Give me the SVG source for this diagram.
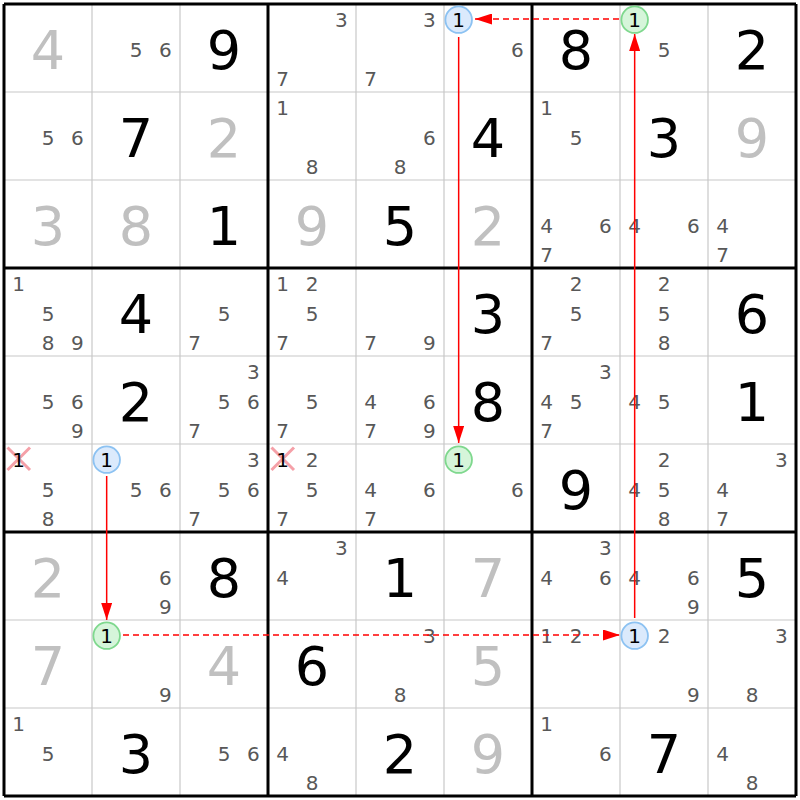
<svg xmlns="http://www.w3.org/2000/svg" width="800" height="800" viewBox="0 0 800 800">
<style>
.thin{stroke:#c8c8c8;stroke-width:1.2}
.thick{stroke:#000;stroke-width:3}
text{font-family:"DejaVu Sans","Liberation Sans",sans-serif;text-anchor:middle}
.g{font-size:54px;fill:#000}
.s{font-size:54px;fill:#c0c0c0}
.c{font-size:20px;fill:#585858}
.h{font-size:20px;fill:#000}
.blue{fill:#dbeafc;stroke:#8cc2f2;stroke-width:1.8}
.green{fill:#d6f5da;stroke:#7fd88e;stroke-width:1.8}
.x{stroke:#f5a0a8;stroke-width:3}
.link{stroke:#ff0000;stroke-width:1.5;fill:none}
.dash{stroke-dasharray:6 4}
</style>
<defs>
<marker id="ah" markerUnits="userSpaceOnUse" markerWidth="17" markerHeight="11" refX="17" refY="5.5" orient="auto">
<path d="M0,0 L17,5.5 L0,11 Z" fill="#ff0000"/>
</marker>
</defs>
<rect width="800" height="800" fill="#fff"/>
<g id="grid">
<path class="thin" d="M92,4V796M180,4V796M356,4V796M444,4V796M620,4V796M708,4V796M4,92H796M4,180H796M4,356H796M4,444H796M4,620H796M4,708H796"/>
<path class="thick" d="M4,4V796M268,4V796M532,4V796M796,4V796M4,4H796M4,268H796M4,532H796M4,796H796"/>
</g>

<!-- Row 0 -->
<g id="r0c0"><text class="s" x="48" y="69">4</text></g>
<g id="r0c1"><text class="c" x="136" y="56.7">5</text><text class="c" x="165.33" y="56.7">6</text></g>
<g id="r0c2"><text class="g" x="224" y="69">9</text></g>
<g id="r0c3"><text class="c" x="341.33" y="27.3">3</text><text class="c" x="282.67" y="86">7</text></g>
<g id="r0c4"><text class="c" x="429.33" y="27.3">3</text><text class="c" x="370.67" y="86">7</text></g>
<g id="r0c5"><circle class="blue" cx="458.67" cy="19.67" r="13.3"/><text class="h" x="458.67" y="27.3">1</text><text class="c" x="517.33" y="56.7">6</text></g>
<g id="r0c6"><text class="g" x="576" y="69">8</text></g>
<g id="r0c7"><circle class="green" cx="634.67" cy="19.67" r="13.3"/><text class="h" x="634.67" y="27.3">1</text><text class="c" x="664" y="56.7">5</text></g>
<g id="r0c8"><text class="g" x="752" y="69">2</text></g>

<!-- Row 1 -->
<g id="r1c0"><text class="c" x="48" y="144.7">5</text><text class="c" x="77.33" y="144.7">6</text></g>
<g id="r1c1"><text class="g" x="136" y="157">7</text></g>
<g id="r1c2"><text class="s" x="224" y="157">2</text></g>
<g id="r1c3"><text class="c" x="282.67" y="115.3">1</text><text class="c" x="312" y="174">8</text></g>
<g id="r1c4"><text class="c" x="429.33" y="144.7">6</text><text class="c" x="400" y="174">8</text></g>
<g id="r1c5"><text class="g" x="488" y="157">4</text></g>
<g id="r1c6"><text class="c" x="546.67" y="115.3">1</text><text class="c" x="576" y="144.7">5</text></g>
<g id="r1c7"><text class="g" x="664" y="157">3</text></g>
<g id="r1c8"><text class="s" x="752" y="157">9</text></g>

<!-- Row 2 -->
<g id="r2c0"><text class="s" x="48" y="245">3</text></g>
<g id="r2c1"><text class="s" x="136" y="245">8</text></g>
<g id="r2c2"><text class="g" x="224" y="245">1</text></g>
<g id="r2c3"><text class="s" x="312" y="245">9</text></g>
<g id="r2c4"><text class="g" x="400" y="245">5</text></g>
<g id="r2c5"><text class="s" x="488" y="245">2</text></g>
<g id="r2c6"><text class="c" x="546.67" y="232.7">4</text><text class="c" x="605.33" y="232.7">6</text><text class="c" x="546.67" y="262">7</text></g>
<g id="r2c7"><text class="c" x="634.67" y="232.7">4</text><text class="c" x="693.33" y="232.7">6</text></g>
<g id="r2c8"><text class="c" x="722.67" y="232.7">4</text><text class="c" x="722.67" y="262">7</text></g>

<!-- Row 3 -->
<g id="r3c0"><text class="c" x="18.67" y="291.3">1</text><text class="c" x="48" y="320.7">5</text><text class="c" x="48" y="350">8</text><text class="c" x="77.33" y="350">9</text></g>
<g id="r3c1"><text class="g" x="136" y="333">4</text></g>
<g id="r3c2"><text class="c" x="224" y="320.7">5</text><text class="c" x="194.67" y="350">7</text></g>
<g id="r3c3"><text class="c" x="282.67" y="291.3">1</text><text class="c" x="312" y="291.3">2</text><text class="c" x="312" y="320.7">5</text><text class="c" x="282.67" y="350">7</text></g>
<g id="r3c4"><text class="c" x="370.67" y="350">7</text><text class="c" x="429.33" y="350">9</text></g>
<g id="r3c5"><text class="g" x="488" y="333">3</text></g>
<g id="r3c6"><text class="c" x="576" y="291.3">2</text><text class="c" x="576" y="320.7">5</text><text class="c" x="546.67" y="350">7</text></g>
<g id="r3c7"><text class="c" x="664" y="291.3">2</text><text class="c" x="664" y="320.7">5</text><text class="c" x="664" y="350">8</text></g>
<g id="r3c8"><text class="g" x="752" y="333">6</text></g>

<!-- Row 4 -->
<g id="r4c0"><text class="c" x="48" y="408.7">5</text><text class="c" x="77.33" y="408.7">6</text><text class="c" x="77.33" y="438">9</text></g>
<g id="r4c1"><text class="g" x="136" y="421">2</text></g>
<g id="r4c2"><text class="c" x="253.33" y="379.3">3</text><text class="c" x="224" y="408.7">5</text><text class="c" x="253.33" y="408.7">6</text><text class="c" x="194.67" y="438">7</text></g>
<g id="r4c3"><text class="c" x="312" y="408.7">5</text><text class="c" x="282.67" y="438">7</text></g>
<g id="r4c4"><text class="c" x="370.67" y="408.7">4</text><text class="c" x="429.33" y="408.7">6</text><text class="c" x="370.67" y="438">7</text><text class="c" x="429.33" y="438">9</text></g>
<g id="r4c5"><text class="g" x="488" y="421">8</text></g>
<g id="r4c6"><text class="c" x="605.33" y="379.3">3</text><text class="c" x="546.67" y="408.7">4</text><text class="c" x="576" y="408.7">5</text><text class="c" x="546.67" y="438">7</text></g>
<g id="r4c7"><text class="c" x="634.67" y="408.7">4</text><text class="c" x="664" y="408.7">5</text></g>
<g id="r4c8"><text class="g" x="752" y="421">1</text></g>

<!-- Row 5 -->
<g id="r5c0"><path class="x" d="M7.5,447.5L30,470M30,447.5L7.5,470"/><text class="h" x="18.67" y="467.3">1</text><text class="c" x="48" y="496.7">5</text><text class="c" x="48" y="526">8</text></g>
<g id="r5c1"><circle class="blue" cx="106.67" cy="459.67" r="13.3"/><text class="h" x="106.67" y="467.3">1</text><text class="c" x="136" y="496.7">5</text><text class="c" x="165.33" y="496.7">6</text></g>
<g id="r5c2"><text class="c" x="253.33" y="467.3">3</text><text class="c" x="224" y="496.7">5</text><text class="c" x="253.33" y="496.7">6</text><text class="c" x="194.67" y="526">7</text></g>
<g id="r5c3"><path class="x" d="M271.5,447.5L294,470M294,447.5L271.5,470"/><text class="h" x="282.67" y="467.3">1</text><text class="c" x="312" y="467.3">2</text><text class="c" x="312" y="496.7">5</text><text class="c" x="282.67" y="526">7</text></g>
<g id="r5c4"><text class="c" x="370.67" y="496.7">4</text><text class="c" x="429.33" y="496.7">6</text><text class="c" x="370.67" y="526">7</text></g>
<g id="r5c5"><circle class="green" cx="458.67" cy="459.67" r="13.3"/><text class="h" x="458.67" y="467.3">1</text><text class="c" x="517.33" y="496.7">6</text></g>
<g id="r5c6"><text class="g" x="576" y="509">9</text></g>
<g id="r5c7"><text class="c" x="664" y="467.3">2</text><text class="c" x="634.67" y="496.7">4</text><text class="c" x="664" y="496.7">5</text><text class="c" x="664" y="526">8</text></g>
<g id="r5c8"><text class="c" x="781.33" y="467.3">3</text><text class="c" x="722.67" y="496.7">4</text><text class="c" x="722.67" y="526">7</text></g>

<!-- Row 6 -->
<g id="r6c0"><text class="s" x="48" y="597">2</text></g>
<g id="r6c1"><text class="c" x="165.33" y="584.7">6</text><text class="c" x="165.33" y="614">9</text></g>
<g id="r6c2"><text class="g" x="224" y="597">8</text></g>
<g id="r6c3"><text class="c" x="341.33" y="555.3">3</text><text class="c" x="282.67" y="584.7">4</text></g>
<g id="r6c4"><text class="g" x="400" y="597">1</text></g>
<g id="r6c5"><text class="s" x="488" y="597">7</text></g>
<g id="r6c6"><text class="c" x="605.33" y="555.3">3</text><text class="c" x="546.67" y="584.7">4</text><text class="c" x="605.33" y="584.7">6</text></g>
<g id="r6c7"><text class="c" x="634.67" y="584.7">4</text><text class="c" x="693.33" y="584.7">6</text><text class="c" x="693.33" y="614">9</text></g>
<g id="r6c8"><text class="g" x="752" y="597">5</text></g>

<!-- Row 7 -->
<g id="r7c0"><text class="s" x="48" y="685">7</text></g>
<g id="r7c1"><circle class="green" cx="106.67" cy="635.67" r="13.3"/><text class="h" x="106.67" y="643.3">1</text><text class="c" x="165.33" y="702">9</text></g>
<g id="r7c2"><text class="s" x="224" y="685">4</text></g>
<g id="r7c3"><text class="g" x="312" y="685">6</text></g>
<g id="r7c4"><text class="c" x="429.33" y="643.3">3</text><text class="c" x="400" y="702">8</text></g>
<g id="r7c5"><text class="s" x="488" y="685">5</text></g>
<g id="r7c6"><text class="c" x="546.67" y="643.3">1</text><text class="c" x="576" y="643.3">2</text></g>
<g id="r7c7"><circle class="blue" cx="634.67" cy="635.67" r="13.3"/><text class="h" x="634.67" y="643.3">1</text><text class="c" x="664" y="643.3">2</text><text class="c" x="693.33" y="702">9</text></g>
<g id="r7c8"><text class="c" x="781.33" y="643.3">3</text><text class="c" x="752" y="702">8</text></g>

<!-- Row 8 -->
<g id="r8c0"><text class="c" x="18.67" y="731.3">1</text><text class="c" x="48" y="760.7">5</text></g>
<g id="r8c1"><text class="g" x="136" y="773">3</text></g>
<g id="r8c2"><text class="c" x="224" y="760.7">5</text><text class="c" x="253.33" y="760.7">6</text></g>
<g id="r8c3"><text class="c" x="282.67" y="760.7">4</text><text class="c" x="312" y="790">8</text></g>
<g id="r8c4"><text class="g" x="400" y="773">2</text></g>
<g id="r8c5"><text class="s" x="488" y="773">9</text></g>
<g id="r8c6"><text class="c" x="546.67" y="731.3">1</text><text class="c" x="605.33" y="760.7">6</text></g>
<g id="r8c7"><text class="g" x="664" y="773">7</text></g>
<g id="r8c8"><text class="c" x="722.67" y="760.7">4</text><text class="c" x="752" y="790">8</text></g>

<g id="connectors">
<line class="link" x1="106.67" y1="476" x2="106.67" y2="620" marker-end="url(#ah)"/>
<line class="link dash" x1="123" y1="635" x2="620" y2="635" marker-end="url(#ah)"/>
<line class="link" x1="634.67" y1="618" x2="634.67" y2="34" marker-end="url(#ah)"/>
<line class="link dash" x1="619" y1="19" x2="475" y2="19" marker-end="url(#ah)"/>
<line class="link" x1="458.67" y1="37" x2="458.67" y2="443" marker-end="url(#ah)"/>
</g>
</svg>
